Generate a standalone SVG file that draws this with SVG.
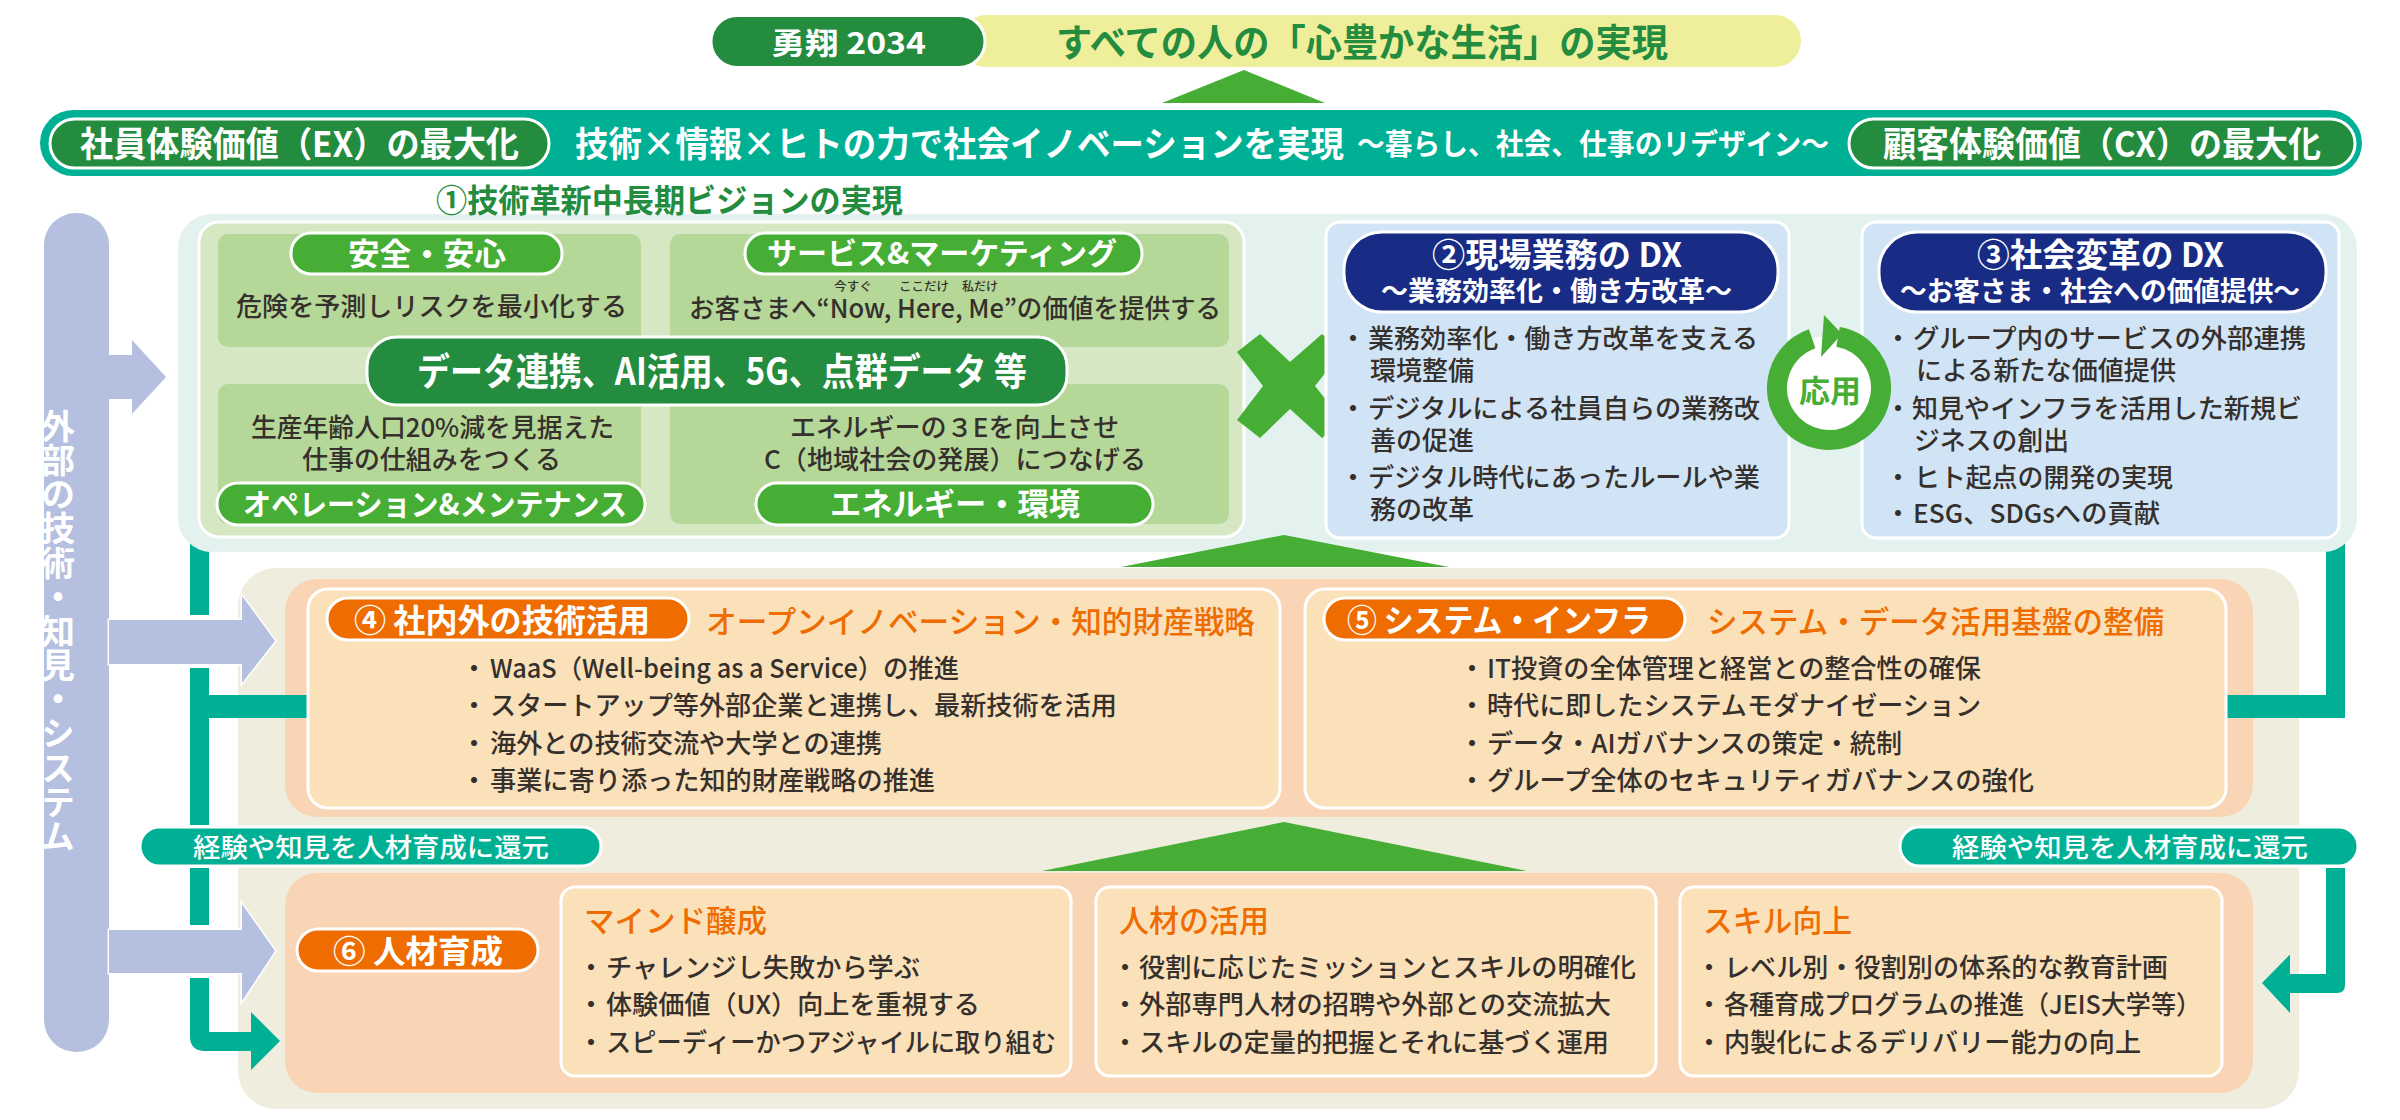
<svg xmlns="http://www.w3.org/2000/svg" width="2400" height="1120" viewBox="0 0 2400 1120">
<style>
text{font-family:"Noto Sans CJK JP","Noto Sans",sans-serif;}
.w{fill:#fff;font-weight:700}
.b{fill:#35302c;font-size:26px;font-weight:500}
.o{fill:#ee6c00;font-weight:500}
.g{fill:#238c3e;font-weight:700}
.s{stroke:#fff;stroke-width:3}
.teal{fill:#00b095}
.gd{fill:#238c3e}
.gl{fill:#46ae35}
.or{fill:#ee6c00}
.nv{fill:#182c85}
.lb{fill:#b5bfdf}
.cream{fill:#fbe1ba}
.peach{fill:#f9d5b5}
.sub{fill:#b5d898}
.blue{fill:#d0e4f6}
</style>
<g id="vision">
<rect x="960" y="15" width="841" height="52" rx="26" fill="#efef9b"/>
<rect x="711" y="15.500" width="274" height="52" rx="26" class="gd s"/>
<text x="771" y="54" font-size="30" textLength="155" lengthAdjust="spacingAndGlyphs" class="w">勇翔 2034</text>
<text x="1056" y="56" font-size="38" textLength="612" lengthAdjust="spacingAndGlyphs" class="g">すべての人の「心豊かな生活」の実現</text>
<polygon points="1162,103 1244,70 1325,103" class="gl"/>
</g>
<g id="band">
<rect x="40" y="110" width="2322" height="66" rx="33" class="teal"/>
<rect x="50" y="119" width="499" height="49" rx="24.500" class="gd s"/>
<rect x="1849" y="119" width="506" height="49" rx="24.500" class="gd s"/>
<text x="80" y="157" font-size="35" textLength="439" lengthAdjust="spacingAndGlyphs" class="w">社員体験価値（EX）の最大化</text>
<text x="575" y="157" font-size="35" textLength="769" lengthAdjust="spacingAndGlyphs" class="w">技術×情報×ヒトの力で社会イノベーションを実現</text>
<text x="1357" y="155" font-size="29" textLength="472" lengthAdjust="spacingAndGlyphs" class="w">～暮らし、社会、仕事のリデザイン～</text>
<text x="1883" y="157" font-size="35" textLength="438" lengthAdjust="spacingAndGlyphs" class="w">顧客体験価値（CX）の最大化</text>
</g>
<g id="external">
<rect x="44" y="213" width="65" height="839" rx="32" class="lb"/>
<text x="58" y="409" font-size="34" class="w" style="writing-mode:vertical-rl" textLength="444" lengthAdjust="spacing" dx="0">外部の技術・知見・システム</text>
</g>
<g id="connectors">
<path d="M109,355H132V340L166,377L132,414V399H109Z" class="lb"/>
<path d="M190,540H209V615H190Z M190,668H209V695H308V718H209V825H190Z M190,868H209V925H190Z M190,978H209V1032H251V1012L280,1041L251,1070V1051H205Q190,1051 190,1036Z" class="teal"/>
<path d="M2326,540H2345V825H2326Z M2226,695H2326V825H2345V718H2226Z" class="teal"/>
<path d="M2326,868H2345V985Q2345,993 2337,993H2290V1013L2262,983L2290,954.500V974H2326Z" class="teal"/>
</g>
<g id="section1">
<rect x="178" y="214" width="2179" height="338" rx="34" fill="#e3f1ef"/>
<rect x="199" y="222" width="1045" height="315" rx="20" fill="#d6e7c4" class="s"/>
<rect x="218" y="234" width="423" height="113" rx="10" class="sub"/>
<rect x="670" y="234" width="559" height="113" rx="10" class="sub"/>
<rect x="218" y="384" width="423" height="140" rx="10" class="sub"/>
<rect x="670" y="384" width="559" height="140" rx="10" class="sub"/>
</g>
<g id="node-safety">
<rect x="291" y="233" width="271" height="41" rx="20" class="gl s"/>
<text x="348" y="265" font-size="31" textLength="158" lengthAdjust="spacingAndGlyphs" class="w">安全・安心</text>
<text x="236" y="316" textLength="391" lengthAdjust="spacingAndGlyphs" class="b">危険を予測しリスクを最小化する</text>
</g>
<g id="node-service">
<rect x="745" y="233" width="397" height="41" rx="20" class="gl s"/>
<text x="767" y="264" font-size="30" textLength="350" lengthAdjust="spacingAndGlyphs" class="w">サービス&amp;マーケティング</text>
<text x="689" y="318" textLength="532" lengthAdjust="spacingAndGlyphs" class="b">お客さまへ“Now, Here, Me”の価値を提供する</text>
<text x="834" y="291" font-size="12" textLength="38" lengthAdjust="spacingAndGlyphs" class="b" style="font-size:12px">今すぐ</text>
<text x="899" y="291" textLength="50" lengthAdjust="spacingAndGlyphs" class="b" style="font-size:12px">ここだけ</text>
<text x="962" y="291" textLength="36" lengthAdjust="spacingAndGlyphs" class="b" style="font-size:12px">私だけ</text>
</g>
<g id="node-ops">
<text x="251" y="437" textLength="363" lengthAdjust="spacingAndGlyphs" class="b">生産年齢人口20%減を見据えた</text>
<text x="302" y="469" textLength="259" lengthAdjust="spacingAndGlyphs" class="b">仕事の仕組みをつくる</text>
<rect x="217" y="483" width="428" height="42" rx="21" class="gl s"/>
<text x="243" y="515" font-size="30" textLength="384" lengthAdjust="spacingAndGlyphs" class="w">オペレーション&amp;メンテナンス</text>
</g>
<g id="node-energy">
<text x="790" y="437" textLength="329" lengthAdjust="spacingAndGlyphs" class="b">エネルギーの３Eを向上させ</text>
<text x="764" y="469" textLength="382" lengthAdjust="spacingAndGlyphs" class="b">C（地域社会の発展）につなげる</text>
<rect x="756" y="483" width="397" height="42" rx="21" class="gl s"/>
<text x="830" y="515" font-size="31" textLength="250" lengthAdjust="spacingAndGlyphs" class="w">エネルギー・環境</text>
</g>
<g id="node-data">
<rect x="367" y="337" width="700" height="68" rx="30" class="gd s"/>
<text x="417" y="385" font-size="38" textLength="610" lengthAdjust="spacingAndGlyphs" class="w">データ連携、AI活用、5G、点群データ 等</text>
</g>
<g id="node-1-title">
<text x="436" y="212" font-size="32" textLength="467" lengthAdjust="spacingAndGlyphs" class="g">①技術革新中長期ビジョンの実現</text>
</g>
<g id="cross">
<polygon points="1260,334 1290,362 1322,334 1342,352 1315,386 1342,420 1322,438 1290,409 1260,438 1237,420 1263,386 1237,352" class="gl"/>
</g>
<g id="node-2">
<rect x="1326" y="222" width="463" height="316" rx="14" class="blue s"/>
<rect x="1344" y="232" width="434" height="80" rx="38" class="nv s"/>
<text x="1432" y="267" font-size="33" textLength="250" lengthAdjust="spacingAndGlyphs" class="w">②現場業務の DX</text>
<text x="1381" y="301" font-size="27" textLength="351" lengthAdjust="spacingAndGlyphs" class="w">～業務効率化・働き方改革～</text>
<text x="1353" y="348" class="b" text-anchor="middle">・</text>
<text x="1368" y="348" textLength="390" lengthAdjust="spacingAndGlyphs" class="b">業務効率化・働き方改革を支える</text>
<text x="1370" y="380" textLength="104" lengthAdjust="spacingAndGlyphs" class="b">環境整備</text>
<text x="1353" y="418" class="b" text-anchor="middle">・</text>
<text x="1368" y="418" textLength="392" lengthAdjust="spacingAndGlyphs" class="b">デジタルによる社員自らの業務改</text>
<text x="1370" y="450" textLength="104" lengthAdjust="spacingAndGlyphs" class="b">善の促進</text>
<text x="1353" y="487" class="b" text-anchor="middle">・</text>
<text x="1368" y="487" textLength="392" lengthAdjust="spacingAndGlyphs" class="b">デジタル時代にあったルールや業</text>
<text x="1370" y="519" textLength="104" lengthAdjust="spacingAndGlyphs" class="b">務の改革</text>
</g>
<g id="node-3">
<rect x="1862" y="222" width="477" height="316" rx="14" class="blue s"/>
<rect x="1879" y="232" width="447" height="80" rx="38" class="nv s"/>
<text x="1977" y="267" font-size="33" textLength="247" lengthAdjust="spacingAndGlyphs" class="w">③社会変革の DX</text>
<text x="1900" y="301" font-size="27" textLength="400" lengthAdjust="spacingAndGlyphs" class="w">～お客さま・社会への価値提供～</text>
<text x="1898" y="348" class="b" text-anchor="middle">・</text>
<text x="1913" y="348" textLength="393" lengthAdjust="spacingAndGlyphs" class="b">グループ内のサービスの外部連携</text>
<text x="1916" y="380" textLength="260" lengthAdjust="spacingAndGlyphs" class="b">による新たな価値提供</text>
<text x="1898" y="418" class="b" text-anchor="middle">・</text>
<text x="1912" y="418" textLength="390" lengthAdjust="spacingAndGlyphs" class="b">知見やインフラを活用した新規ビ</text>
<text x="1914" y="450" textLength="155" lengthAdjust="spacingAndGlyphs" class="b">ジネスの創出</text>
<text x="1898" y="487" class="b" text-anchor="middle">・</text>
<text x="1914" y="487" textLength="259" lengthAdjust="spacingAndGlyphs" class="b">ヒト起点の開発の実現</text>
<text x="1898" y="523" class="b" text-anchor="middle">・</text>
<text x="1913" y="523" textLength="247" lengthAdjust="spacingAndGlyphs" class="b">ESG、SDGsへの貢献</text>
</g>
<g id="applied">
<ellipse cx="1829" cy="388" rx="52" ry="52" fill="#fff" stroke="#46ae35" stroke-width="20" stroke-dasharray="300 27" transform="rotate(-80 1829 388)"/>
<polygon points="1824,315 1842,334 1821,357" class="gl"/>
<text x="1799" y="402" font-size="31" textLength="62" lengthAdjust="spacingAndGlyphs" fill="#46ae35" font-weight="700">応用</text>
</g>
<g id="section2">
<rect x="238" y="568" width="2061" height="541" rx="38" fill="#efedde"/>
<path d="M166,377Z" fill="none"/>
<path d="M109,620H242V596L275,641L242,683V664H109Z" class="lb s" style="paint-order:stroke"/>
<path d="M109,930H242V904L275,951L242,1001V973H109Z" class="lb s" style="paint-order:stroke"/>
<path d="M209,695H285V718H209Z" class="teal"/>
<path d="M2253,695H2326V718H2253Z" class="teal"/>
<path d="M209,1032H251V1012L280,1041L251,1070V1051H205Z" class="teal"/>
<polygon points="1121,567 1284,535 1449,567" class="gl"/>
<polygon points="1042,871 1284,822 1527,871" class="gl"/>
<rect x="285" y="579" width="1968" height="238" rx="32" class="peach"/>
<rect x="285" y="873" width="1968" height="220" rx="32" class="peach"/>
<path d="M285,695H308V718H285Z M2227,695H2253V718H2227Z" class="teal"/>
<path d="M2290,954.500L2262,983L2290,1013V993H2300V974H2290Z" class="teal"/>
</g>
<g id="node-4">
<rect x="308" y="589" width="972" height="219" rx="20" class="cream s"/>
<rect x="327" y="598" width="362" height="42" rx="21" class="or s"/>
<text x="354" y="632" font-size="32" textLength="296" lengthAdjust="spacingAndGlyphs" class="w">④ 社内外の技術活用</text>
<text x="706" y="633" font-size="31" textLength="549" lengthAdjust="spacingAndGlyphs" class="o">オープンイノベーション・知的財産戦略</text>
<text x="474" y="678" class="b" text-anchor="middle">・</text><text x="490" y="678" textLength="469" lengthAdjust="spacingAndGlyphs" class="b">WaaS（Well-being as a Service）の推進</text>
<text x="474" y="715" class="b" text-anchor="middle">・</text><text x="490" y="715" textLength="627" lengthAdjust="spacingAndGlyphs" class="b">スタートアップ等外部企業と連携し、最新技術を活用</text>
<text x="474" y="753" class="b" text-anchor="middle">・</text><text x="490" y="753" textLength="392" lengthAdjust="spacingAndGlyphs" class="b">海外との技術交流や大学との連携</text>
<text x="474" y="790" class="b" text-anchor="middle">・</text><text x="490" y="790" textLength="445" lengthAdjust="spacingAndGlyphs" class="b">事業に寄り添った知的財産戦略の推進</text>
</g>
<g id="node-5">
<rect x="1305" y="589" width="921" height="219" rx="20" class="cream s"/>
<rect x="1324" y="598" width="361" height="42" rx="21" class="or s"/>
<text x="1347" y="632" font-size="32" textLength="304" lengthAdjust="spacingAndGlyphs" class="w">⑤ システム・インフラ</text>
<text x="1707" y="633" font-size="31" textLength="457" lengthAdjust="spacingAndGlyphs" class="o">システム・データ活用基盤の整備</text>
<text x="1472" y="678" class="b" text-anchor="middle">・</text><text x="1487" y="678" textLength="494" lengthAdjust="spacingAndGlyphs" class="b">IT投資の全体管理と経営との整合性の確保</text>
<text x="1472" y="715" class="b" text-anchor="middle">・</text><text x="1487" y="715" textLength="494" lengthAdjust="spacingAndGlyphs" class="b">時代に即したシステムモダナイゼーション</text>
<text x="1472" y="753" class="b" text-anchor="middle">・</text><text x="1487" y="753" textLength="415" lengthAdjust="spacingAndGlyphs" class="b">データ・AIガバナンスの策定・統制</text>
<text x="1472" y="790" class="b" text-anchor="middle">・</text><text x="1487" y="790" textLength="547" lengthAdjust="spacingAndGlyphs" class="b">グループ全体のセキュリティガバナンスの強化</text>
</g>
<g id="return-left">
<rect x="140" y="827" width="461" height="39" rx="19.500" class="teal s"/>
<text x="193" y="857" font-size="26" textLength="356" lengthAdjust="spacingAndGlyphs" class="w" style="font-weight:500">経験や知見を人材育成に還元</text>
</g>
<g id="return-right">
<rect x="1900" y="827" width="458" height="39" rx="19.500" class="teal s"/>
<text x="1952" y="857" font-size="26" textLength="356" lengthAdjust="spacingAndGlyphs" class="w" style="font-weight:500">経験や知見を人材育成に還元</text>
</g>
<g id="node-6">
<rect x="297" y="929" width="241" height="42" rx="21" class="or s"/>
<text x="333" y="963" font-size="32" textLength="170" lengthAdjust="spacingAndGlyphs" class="w">⑥ 人材育成</text>
</g>
<g id="node-mind">
<rect x="561" y="887" width="510" height="189" rx="14" class="cream s"/>
<text x="584" y="932" font-size="31" textLength="183" lengthAdjust="spacingAndGlyphs" class="o">マインド醸成</text>
<text x="591" y="977" class="b" text-anchor="middle">・</text><text x="606" y="977" textLength="314" lengthAdjust="spacingAndGlyphs" class="b">チャレンジし失敗から学ぶ</text>
<text x="591" y="1014" class="b" text-anchor="middle">・</text><text x="606" y="1014" textLength="374" lengthAdjust="spacingAndGlyphs" class="b">体験価値（UX）向上を重視する</text>
<text x="591" y="1052" class="b" text-anchor="middle">・</text><text x="606" y="1052" textLength="450" lengthAdjust="spacingAndGlyphs" class="b">スピーディーかつアジャイルに取り組む</text>
</g>
<g id="node-talent">
<rect x="1096" y="887" width="560" height="189" rx="14" class="cream s"/>
<text x="1119" y="932" font-size="31" textLength="150" lengthAdjust="spacingAndGlyphs" class="o">人材の活用</text>
<text x="1125" y="977" class="b" text-anchor="middle">・</text><text x="1139" y="977" textLength="497" lengthAdjust="spacingAndGlyphs" class="b">役割に応じたミッションとスキルの明確化</text>
<text x="1125" y="1014" class="b" text-anchor="middle">・</text><text x="1139" y="1014" textLength="472" lengthAdjust="spacingAndGlyphs" class="b">外部専門人材の招聘や外部との交流拡大</text>
<text x="1125" y="1052" class="b" text-anchor="middle">・</text><text x="1139" y="1052" textLength="470" lengthAdjust="spacingAndGlyphs" class="b">スキルの定量的把握とそれに基づく運用</text>
</g>
<g id="node-skill">
<rect x="1680" y="887" width="542" height="189" rx="14" class="cream s"/>
<text x="1703" y="932" font-size="31" textLength="149" lengthAdjust="spacingAndGlyphs" class="o">スキル向上</text>
<text x="1709" y="977" class="b" text-anchor="middle">・</text><text x="1724" y="977" textLength="444" lengthAdjust="spacingAndGlyphs" class="b">レベル別・役割別の体系的な教育計画</text>
<text x="1709" y="1014" class="b" text-anchor="middle">・</text><text x="1724" y="1014" textLength="477" lengthAdjust="spacingAndGlyphs" class="b">各種育成プログラムの推進（JEIS大学等）</text>
<text x="1709" y="1052" class="b" text-anchor="middle">・</text><text x="1724" y="1052" textLength="417" lengthAdjust="spacingAndGlyphs" class="b">内製化によるデリバリー能力の向上</text>
</g>
</svg>
